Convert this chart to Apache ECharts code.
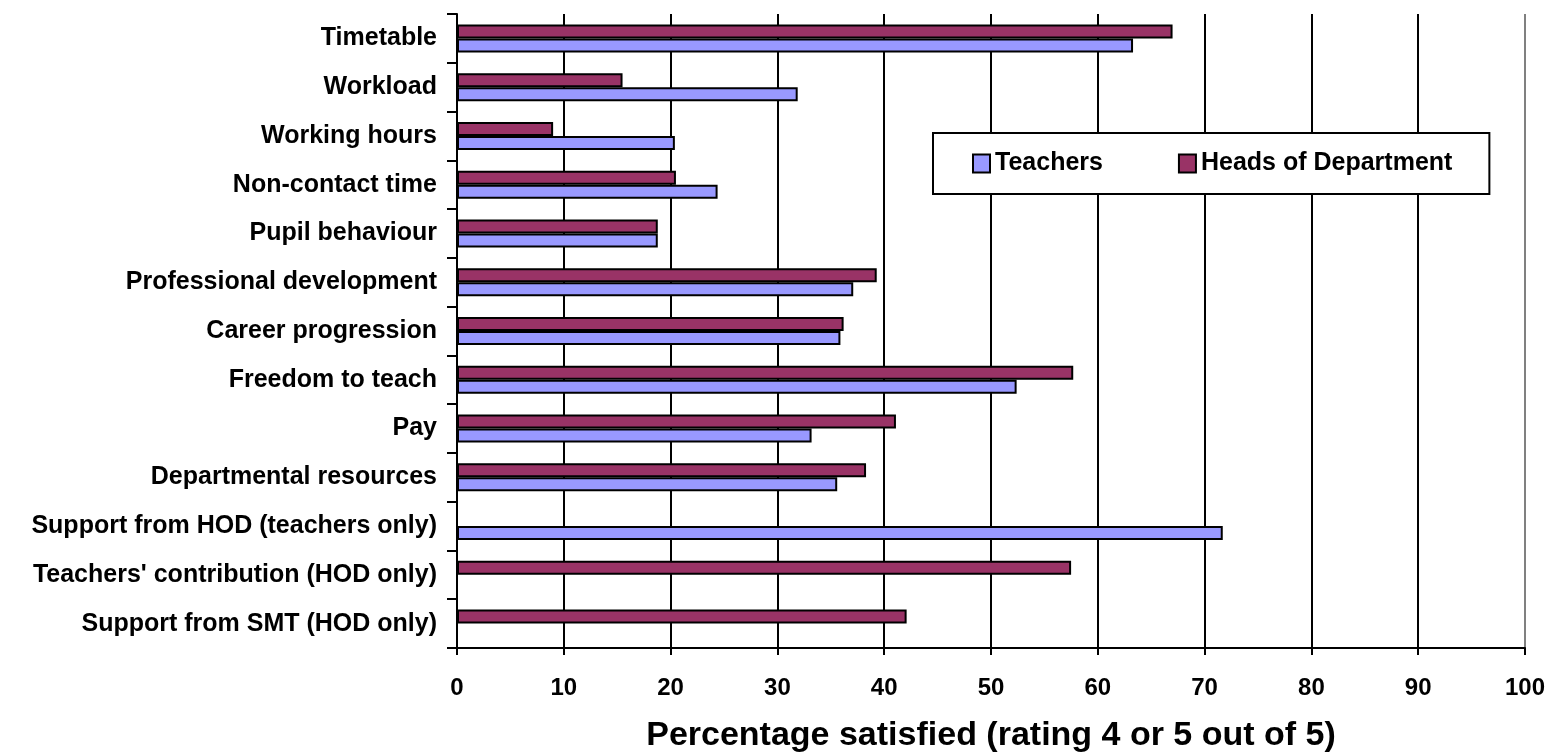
<!DOCTYPE html>
<html>
<head>
<meta charset="utf-8">
<script src="https://cdn.jsdelivr.net/npm/echarts@6/dist/echarts.min.js"></script>
<style>
html,body{margin:0;padding:0;background:#fff;}
#main{width:1553px;height:753px;}
</style>
</head>
<body>
<div id="main"></div>
<script>
const categories = ['Timetable','Workload','Working hours','Non-contact time','Pupil behaviour','Professional development','Career progression','Freedom to teach','Pay','Departmental resources','Support from HOD (teachers only)',"Teachers' contribution (HOD only)",'Support from SMT (HOD only)'];
const teachers = [63.3, 31.9, 20.4, 24.4, 18.8, 37.1, 35.9, 52.4, 33.2, 35.6, 71.7, null, null];
const hod = [67.0, 15.5, 9.0, 20.5, 18.8, 39.3, 36.2, 57.7, 41.1, 38.3, null, 57.5, 42.1];
const xTicks = [0,10,20,30,40,50,60,70,80,90,100];

const FONT = 'Liberation Sans, Arial, sans-serif';
const chart = echarts.init(document.getElementById('main'));
const gridColors = xTicks.map((v,i)=> i===xTicks.length-1 ? '#808080' : '#000');
chart.setOption({
  animation:false,
  backgroundColor:'#fff',
  textStyle:{fontFamily:FONT},
  grid:{left:457,right:28,top:14,bottom:105,containLabel:false,outerBoundsMode:'none'},
  legend:{
    data:['Teachers','Heads of Department'],
    left:933, top:133,
    orient:'horizontal',
    padding:[18,37,18,39],
    itemGap:75,
    itemWidth:17, itemHeight:18,
    icon:'rect',
    borderColor:'#000', borderWidth:2,
    backgroundColor:'#fff',
    textStyle:{fontFamily:FONT,fontSize:25,fontWeight:'bold',color:'#000'}
  },
  xAxis:{
    type:'value', min:0, max:100, interval:10,
    name:'Percentage satisfied (rating 4 or 5 out of 5)',
    nameLocation:'middle', nameGap:71,
    nameTextStyle:{fontFamily:FONT,fontSize:34,fontWeight:'bold',color:'#000'},
    axisLine:{show:true,lineStyle:{color:'#000',width:2}},
    axisTick:{show:true,length:7,lineStyle:{color:'#000',width:2}},
    axisLabel:{fontFamily:FONT,fontSize:24,fontWeight:'bold',color:'#000',margin:28},
    splitLine:{show:true,lineStyle:{color:gridColors,width:2}}
  },
  yAxis:{
    type:'category', data:categories, inverse:true,
    axisLine:{show:true,lineStyle:{color:'#000',width:2}},
    axisTick:{show:true,length:10,lineStyle:{color:'#000',width:2}},
    axisLabel:{fontFamily:FONT,fontSize:25,fontWeight:'bold',color:'#000',margin:20}
  },
  series:[
    {name:'Heads of Department',type:'bar',data:hod,barWidth:14,barGap:'0%',
     itemStyle:{color:'#993366',borderColor:'#000',borderWidth:2}},
    {name:'Teachers',type:'bar',data:teachers,barWidth:14,barGap:'0%',
     itemStyle:{color:'#9999FF',borderColor:'#000',borderWidth:2}}
  ]
});
</script>
</body>
</html>
